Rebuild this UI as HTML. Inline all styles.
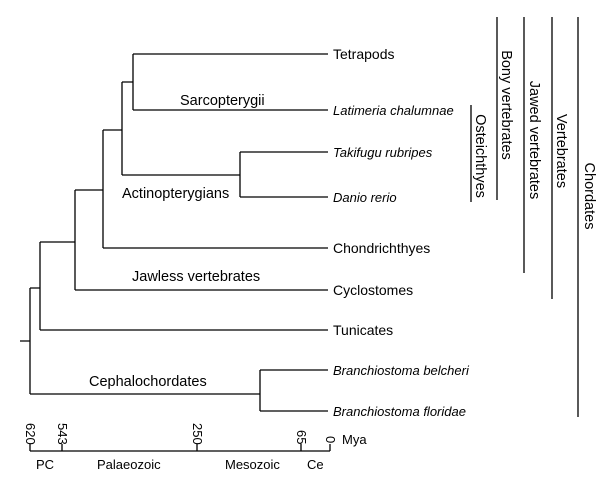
<!DOCTYPE html>
<html><head><meta charset="utf-8"><style>
html,body{margin:0;padding:0;background:#fff}
svg text{font-family:"Liberation Sans",Arial,sans-serif;fill:#000}
</style></head><body>
<svg width="600" height="478" viewBox="0 0 600 478" xmlns="http://www.w3.org/2000/svg">
<g stroke="#000" stroke-width="1.3" fill="none">
<path d="M133 54H328M133 110H328M133 54V110"/>
<path d="M240 152H328M240 197H328M240 152V197"/>
<path d="M122 82H133M122 175H240M122 82V175"/>
<path d="M103 130H122M103 248H328M103 130V248"/>
<path d="M75 190H103M75 290H328M75 190V290"/>
<path d="M40 242H75M40 330H328M40 242V330"/>
<path d="M30 288H40M30 394H260M30 288V394M20 341H30"/>
<path d="M260 370H328M260 411H328M260 370V411"/>
<path d="M471 105V202M497 17V200M524 17V273M552 17V299M578 17V417"/>
<path d="M30 451H330M30 444V451M62 444V451M197 444V451M301 444V451M330 444V451"/>
</g>
<g font-size="14">
<text x="333" y="59">Tetrapods</text>
<text x="333" y="253">Chondrichthyes</text>
<text x="333" y="295">Cyclostomes</text>
<text x="333" y="335">Tunicates</text>
</g>
<g font-size="13" font-style="italic">
<text x="333" y="115">Latimeria chalumnae</text>
<text x="333" y="157">Takifugu rubripes</text>
<text x="333" y="202">Danio rerio</text>
<text x="333" y="375">Branchiostoma belcheri</text>
<text x="333" y="416">Branchiostoma floridae</text>
</g>
<g font-size="14.5">
<text x="180" y="105">Sarcopterygii</text>
<text x="122" y="198">Actinopterygians</text>
<text x="132" y="281">Jawless vertebrates</text>
<text x="89" y="386">Cephalochordates</text>
</g>
<g font-size="14.5" text-anchor="middle">
<text transform="translate(476,156) rotate(90)">Osteichthyes</text>
<text transform="translate(502,105) rotate(90)">Bony vertebrates</text>
<text transform="translate(530,140) rotate(90)">Jawed vertebrates</text>
<text transform="translate(557,151) rotate(90)">Vertebrates</text>
<text transform="translate(585,196) rotate(90)">Chordates</text>
</g>
<g font-size="13">
<text transform="translate(26,423) rotate(90)">620</text>
<text transform="translate(58,423) rotate(90)">543</text>
<text transform="translate(193,423) rotate(90)">250</text>
<text transform="translate(297,430) rotate(90)">65</text>
<text transform="translate(326,436) rotate(90)">0</text>
<text x="342" y="444">Mya</text>
<text x="36" y="469">PC</text>
<text x="97" y="469">Palaeozoic</text>
<text x="225" y="469">Mesozoic</text>
<text x="307" y="469">Ce</text>
</g>
</svg>
</body></html>
